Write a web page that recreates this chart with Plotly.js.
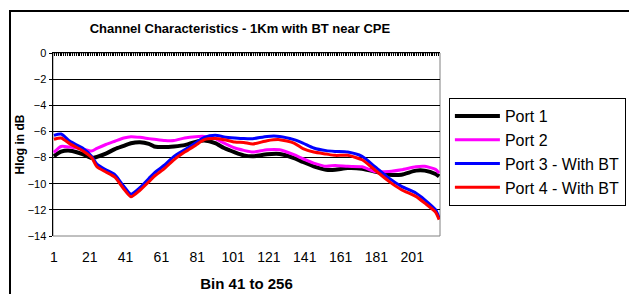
<!DOCTYPE html>
<html>
<head>
<meta charset="utf-8">
<script src="https://cdn.plot.ly/plotly-3.0.1.min.js"></script>
<style>
  html, body { margin: 0; padding: 0; background: #ffffff; overflow: hidden; width: 629px; height: 294px; }
  #frame { position: absolute; left: 9px; top: 10px; width: 700px; height: 400px; border: 2px solid #000; box-sizing: border-box; }
  #chart { position: absolute; left: 0; top: 0; width: 629px; height: 294px; }
</style>
</head>
<body>
<div id="frame"></div>
<div id="chart"></div>
<script>
// Bin index (1 = bin 41 ... 216 = bin 256), sampled where values were read
const bins = [1, 5, 10, 17, 22, 25, 30, 35, 40, 44, 49, 54, 57, 63, 68, 74, 80, 85, 91, 96, 102, 107, 112, 120, 127, 135, 140, 146, 153, 158, 165, 173, 180, 188, 195, 203, 208, 214, 216];

const port1 = [-7.9, -7.55, -7.47, -7.73, -8.03, -7.95, -7.7, -7.35, -7.1, -6.9, -6.82, -6.95, -7.15, -7.2, -7.15, -7.05, -6.8, -6.7, -6.9, -7.27, -7.6, -7.83, -7.9, -7.75, -7.73, -8.04, -8.34, -8.67, -8.93, -8.93, -8.8, -8.85, -9.06, -9.31, -9.31, -9.0, -9.0, -9.26, -9.44];
const port2 = [-7.6, -7.15, -7.2, -7.35, -7.5, -7.3, -7.0, -6.75, -6.5, -6.4, -6.45, -6.55, -6.6, -6.7, -6.7, -6.5, -6.4, -6.38, -6.55, -6.9, -7.27, -7.45, -7.58, -7.4, -7.4, -7.78, -8.09, -8.42, -8.67, -8.6, -8.67, -8.7, -9.06, -9.06, -8.93, -8.7, -8.67, -8.9, -9.18];
const port3 = [-6.3, -6.2, -6.76, -7.27, -7.9, -8.5, -8.93, -9.3, -10.2, -10.8, -10.3, -9.6, -9.18, -8.55, -7.91, -7.4, -6.89, -6.46, -6.3, -6.42, -6.5, -6.55, -6.56, -6.38, -6.38, -6.63, -6.89, -7.27, -7.47, -7.53, -7.58, -7.91, -8.67, -9.57, -10.2, -10.71, -11.23, -11.99, -12.63];
const port4 = [-6.6, -6.5, -6.95, -7.47, -8.0, -8.7, -9.1, -9.5, -10.4, -11.0, -10.5, -9.85, -9.44, -8.8, -8.17, -7.58, -7.07, -6.63, -6.55, -6.63, -6.81, -6.85, -6.96, -6.71, -6.63, -6.89, -7.32, -7.58, -7.73, -7.83, -7.83, -8.17, -8.93, -9.82, -10.46, -10.97, -11.48, -12.17, -12.75];

const seriesNames = ["Port 1", "Port 2", "Port 3 - With BT", "Port 4 - With BT"];
const seriesColors = ["#000000", "#ff00ff", "#0000ff", "#ff0000"];
const seriesWidths = [4, 3, 3, 3];
const seriesValues = [port1, port2, port3, port4];

const xTickVals = [1, 21, 41, 61, 81, 101, 121, 141, 161, 181, 201];
const xTickText = ["1", "21", "41", "61", "81", "101", "121", "141", "161", "181", "201"];
const yTickVals = [0, -2, -4, -6, -8, -10, -12, -14];

const FONT = "Arial, 'Liberation Sans', Helvetica, sans-serif";

const traces = seriesValues.map((vals, k) => ({
  type: "scatter",
  mode: "lines",
  x: bins,
  y: vals,
  name: seriesNames[k],
  legendgroup: "g" + k,
  line: { color: seriesColors[k], width: seriesWidths[k], shape: "spline", smoothing: 0.6 },
  hoverinfo: "x+y+name"
}));
// helper trace so the top category axis (crossing at 0) is drawn
traces.push({ type: "scatter", mode: "lines", x: [], y: [], xaxis: "x2", yaxis: "y", showlegend: false, hoverinfo: "skip" });

const layout = {
  width: 629,
  height: 294,
  paper_bgcolor: "rgba(0,0,0,0)",
  plot_bgcolor: "#ffffff",
  margin: { l: 53, r: 189, t: 53, b: 58, autoexpand: false },
  font: { family: FONT, color: "#000" },
  title: {
    text: "<b>Channel Characteristics - 1Km with BT near CPE</b>",
    font: { size: 13, family: FONT, color: "#000" },
    xref: "paper", x: 0.483, xanchor: "center",
    yref: "container", y: 0.903, yanchor: "middle"
  },
  xaxis: {
    range: [0.5, 216.5],
    tickmode: "array",
    tickvals: xTickVals,
    ticktext: xTickText,
    ticks: "",
    ticklabelstandoff: 11,
    tickfont: { size: 14, family: FONT },
    showgrid: false,
    zeroline: false,
    showline: false,
    fixedrange: true,
    automargin: false,
    title: { text: "<b>Bin 41 to 256</b>", font: { size: 15, family: FONT }, standoff: 14 }
  },
  xaxis2: {
    overlaying: "x",
    anchor: "y",
    side: "top",
    range: [0.5, 216.5],
    tick0: 0.5,
    dtick: 1,
    ticks: "inside",
    ticklen: 3,
    tickwidth: 1,
    tickcolor: "#000",
    showticklabels: false,
    showgrid: false,
    zeroline: false,
    showline: true,
    linecolor: "#000",
    linewidth: 1.5
  },
  yaxis: {
    range: [-14, 0],
    tickmode: "array",
    tickvals: yTickVals,
    ticks: "outside",
    ticklen: 3,
    tickcolor: "#000",
    tickfont: { size: 11, family: FONT },
    showgrid: true,
    gridcolor: "#000",
    gridwidth: 1,
    zeroline: false,
    showline: true,
    linecolor: "#000",
    linewidth: 1.5,
    fixedrange: true,
    automargin: false,
    title: { text: "<b>Hlog in dB</b>", font: { size: 12, family: FONT }, standoff: 0 }
  },
  shapes: [{
    type: "rect", xref: "paper", yref: "paper", x0: 0, x1: 1, y0: 0, y1: 1,
    line: { color: "#808080", width: 1 }, layer: "below"
  }],
  showlegend: true,
  legend: {
    x: 1.023, xanchor: "left",
    y: 0.754, yanchor: "top",
    bgcolor: "#ffffff",
    bordercolor: "#000",
    borderwidth: 1,
    font: { size: 16, family: FONT, color: "#000" },
    itemwidth: 45,
    tracegroupgap: 5,
    traceorder: "normal"
  }
};

Plotly.newPlot("chart", traces, layout, { displayModeBar: false, staticPlot: true });
</script>
</body>
</html>
